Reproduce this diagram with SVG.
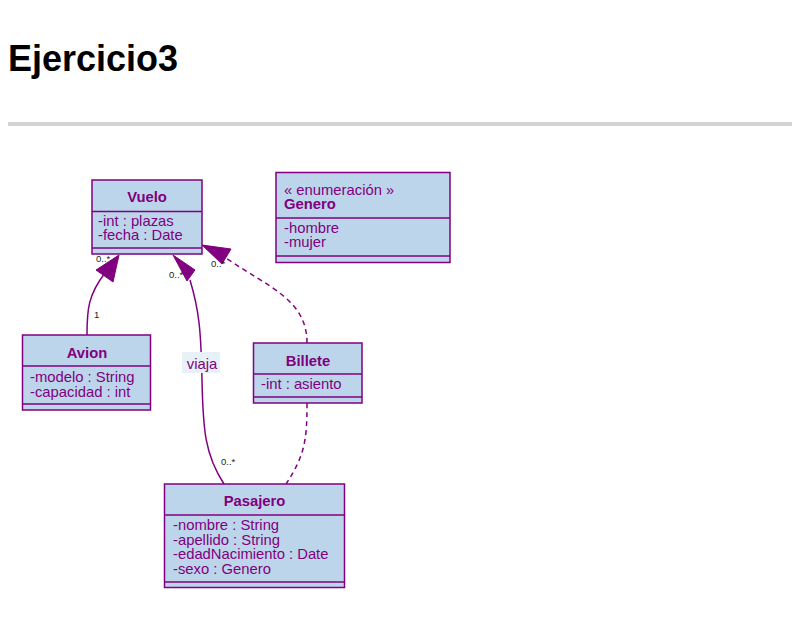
<svg xmlns="http://www.w3.org/2000/svg" width="800" height="618" viewBox="0 0 800 618">
<style>
.box{fill:#bdd5ea;stroke:#800080;stroke-width:1.5}
.sep{stroke:#800080;stroke-width:1.5}
.t{font-family:"Liberation Sans",Arial,sans-serif;font-size:14.8px;fill:#800080}
.h{font-family:"Liberation Sans",Arial,sans-serif;font-size:14.8px;font-weight:bold;fill:#800080;text-anchor:middle}
.e{fill:none;stroke:#800080;stroke-width:1.5}
.d{stroke-dasharray:5,4}
.m{font-family:"Liberation Sans",Arial,sans-serif;font-size:9.5px;fill:#222}
.ah{fill:#800080;stroke:#800080;stroke-width:1}
</style>
<rect width="800" height="618" fill="#fff"/>
<text x="8" y="70.5" font-family="Liberation Sans,Arial,sans-serif" font-size="36" font-weight="bold" fill="#000">Ejercicio3</text>
<rect x="8" y="122" width="784" height="4" fill="#d3d3d3"/>

<g id="connectors">
  <path class="e" d="M87,335 C87,310 88,295 105,273"/>
  <polygon class="ah" points="119,255 96,270 113,282"/>
  <path class="e" d="M224,484 C205,455 203,430 202,380 C201,330 199,310 190,280"/>
  <polygon class="ah" points="173,255 195,270 187,281"/>
  <path class="e d" d="M307,343 C307,300 270,288 226,258"/>
  <polygon class="ah" points="202,245 231,249 222,264"/>
  <path class="e d" d="M307,403 C307,440 305,455 286,484"/>
  <rect x="182" y="352" width="38" height="21" fill="#e8f0f8"/>
  <text class="t" x="202" y="368.5" text-anchor="middle">viaja</text>
  <text class="m" x="96" y="262">0..*</text>
  <text class="m" x="94" y="318">1</text>
  <text class="m" x="169" y="278">0..*</text>
  <text class="m" x="221" y="465">0..*</text>
  <text class="m" x="211" y="267">0..*</text>
</g>

<g id="Vuelo">
  <rect class="box" x="92" y="180" width="110" height="74"/>
  <line class="sep" x1="92" y1="211.5" x2="202" y2="211.5"/>
  <line class="sep" x1="92" y1="248" x2="202" y2="248"/>
  <text class="h" x="147" y="201.5">Vuelo</text>
  <text class="t" x="98" y="225.5">-int : plazas</text>
  <text class="t" x="98" y="240">-fecha : Date</text>
</g>

<g id="Genero">
  <rect class="box" x="276" y="172.5" width="174" height="90"/>
  <line class="sep" x1="276" y1="218" x2="450" y2="218"/>
  <line class="sep" x1="276" y1="256" x2="450" y2="256"/>
  <text class="t" x="284" y="194.5">« enumeración »</text>
  <text class="t" x="284" y="209" font-weight="bold">Genero</text>
  <text class="t" x="284" y="232.5">-hombre</text>
  <text class="t" x="284" y="247">-mujer</text>
</g>

<g id="Avion">
  <rect class="box" x="22.5" y="335" width="128" height="75"/>
  <line class="sep" x1="22.5" y1="366" x2="150.5" y2="366"/>
  <line class="sep" x1="22.5" y1="404" x2="150.5" y2="404"/>
  <text class="h" x="87" y="358">Avion</text>
  <text class="t" x="30" y="382">-modelo : String</text>
  <text class="t" x="30" y="396.5">-capacidad : int</text>
</g>

<g id="Billete">
  <rect class="box" x="253.5" y="343" width="108.5" height="60"/>
  <line class="sep" x1="253.5" y1="374" x2="362" y2="374"/>
  <line class="sep" x1="253.5" y1="397" x2="362" y2="397"/>
  <text class="h" x="308" y="365.5">Billete</text>
  <text class="t" x="261" y="389">-int : asiento</text>
</g>

<g id="Pasajero">
  <rect class="box" x="164.5" y="484" width="180" height="103.5"/>
  <line class="sep" x1="164.5" y1="515" x2="344.5" y2="515"/>
  <line class="sep" x1="164.5" y1="582" x2="344.5" y2="582"/>
  <text class="h" x="254.5" y="505.5">Pasajero</text>
  <text class="t" x="173" y="530">-nombre : String</text>
  <text class="t" x="173" y="544.5">-apellido : String</text>
  <text class="t" x="173" y="559">-edadNacimiento : Date</text>
  <text class="t" x="173" y="573.5">-sexo : Genero</text>
</g>
</svg>
